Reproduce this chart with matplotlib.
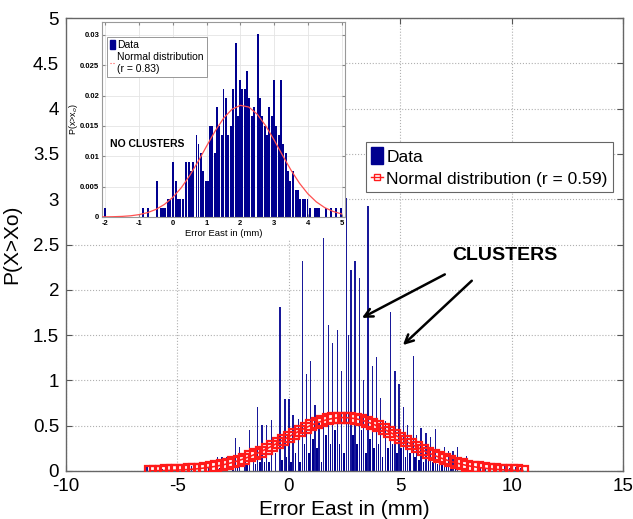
import matplotlib
matplotlib.use("Agg")
import matplotlib.pyplot as plt
from matplotlib.patches import Rectangle, Patch
from matplotlib.lines import Line2D

plt.rcParams['font.family'] = ['Liberation Sans', 'DejaVu Sans']
plt.rcParams['axes.unicode_minus'] = False

# ---------------- main histogram (spikes) ----------------
spike_x = [-6.37, -6.24, -5.7, -4.37, -4.2, -3.6, -3.19, -3.0, -2.79, -2.39, -2.2, -1.97,
           -1.78, -1.6, -1.41, -1.21, -1.0, -0.78, -0.6, -0.4, -0.17, 0.0, 0.18, 0.42,
           0.60, 0.79, 0.98, 1.17, 1.35, 1.57, 1.77, 1.96, 2.17, 2.36, 2.59, 2.68, 2.79,
           2.97, 3.17, 3.36, 3.56, 3.74, 3.92, 4.10, 4.33, 4.55, 4.76, 4.95, 5.14, 5.32,
           5.58, 5.73, 5.93, 6.15, 6.37, 6.57, 6.77, 6.98, 7.17, 7.37, 7.57, 7.77, 7.96,
           8.2, 8.6, 8.8, 9.0, 9.2, 9.45, 9.7, 9.9, 10.2, 10.4]
spike_y = [0.06, 0.06, 0.02, 0.06, 0.04, 0.04, 0.15, 0.15, 0.15, 0.36, 0.26, 0.22,
           0.45, 0.10, 0.71, 0.51, 0.51, 0.56, 0.20, 1.81, 0.80, 0.80, 0.62, 0.57,
           2.32, 1.07, 1.21, 0.73, 0.53, 2.57, 1.61, 1.41, 1.56, 1.10, 3.01, 1.50, 2.22,
           2.32, 2.13, 1.00, 2.93, 1.16, 1.26, 0.81, 0.55, 1.76, 1.10, 0.96, 0.71, 0.51,
           1.27, 0.40, 0.47, 0.42, 0.37, 0.46, 0.20, 0.26, 0.22, 0.22, 0.26, 0.08, 0.16,
           0.04, 0.04, 0.03, 0.04, 0.04, 0.04, 0.05, 0.03, 0.04, 0.03]

# low bars that form the dark base
base_x = [-3.1, -2.5, -2.3, -1.88, -1.5, -1.3, -1.1, -0.9, -0.3, -0.1, 0.1, 0.3, 0.5,
          0.7, 0.9, 1.08, 1.27, 1.46, 1.67, 1.87, 2.07, 2.27, 2.48, 2.88, 3.07, 3.27,
          3.46, 3.65, 3.83, 4.02, 4.2, 4.44, 4.65, 4.85, 5.04, 5.23, 5.45, 5.65, 5.83,
          6.05, 6.26, 6.47, 6.67, 6.88, 7.07, 7.27, 7.47]
base_y = [0.03, 0.05, 0.05, 0.08, 0.08, 0.10, 0.10, 0.10, 0.12, 0.15, 0.10, 0.20, 0.10,
          0.30, 0.20, 0.35, 0.25, 0.10, 0.40, 0.30, 0.45, 0.30, 0.20, 0.40, 0.30, 0.45,
          0.20, 0.35, 0.25, 0.30, 0.15, 0.25, 0.30, 0.20, 0.25, 0.15, 0.20, 0.15, 0.12,
          0.10, 0.12, 0.10, 0.08, 0.08, 0.05, 0.06, 0.05]

# fitted normal curve of main plot
curve_x = [-6.25, -6.0, -5.75, -5.5, -5.25, -5.0, -4.75, -4.5, -4.25, -4.0, -3.75, -3.5,
           -3.25, -3.0, -2.75, -2.5, -2.25, -2.0, -1.75, -1.5, -1.25, -1.0, -0.75, -0.5,
           -0.25, 0.0, 0.25, 0.5, 0.75, 1.0, 1.25, 1.5, 1.75, 2.0, 2.25, 2.5, 2.75, 3.0,
           3.25, 3.5, 3.75, 4.0, 4.25, 4.5, 4.75, 5.0, 5.25, 5.5, 5.75, 6.0, 6.25, 6.5,
           6.75, 7.0, 7.25, 7.5, 7.75, 8.0, 8.25, 8.5, 8.75, 9.0, 9.25, 9.5, 9.75, 10.0,
           10.25, 10.5]
curve_y = [0.0022, 0.0030, 0.0041, 0.0055, 0.0074, 0.0097, 0.0128, 0.0166, 0.0213, 0.0272,
           0.0344, 0.0430, 0.0534, 0.0656, 0.0798, 0.0964, 0.1152, 0.1364, 0.1600, 0.1861,
           0.2143, 0.2446, 0.2767, 0.3100, 0.3441, 0.3785, 0.4124, 0.4454, 0.4764, 0.5050,
           0.5304, 0.5519, 0.5690, 0.5812, 0.5883, 0.5899, 0.5861, 0.5770, 0.5628, 0.5438,
           0.5207, 0.4939, 0.4643, 0.4323, 0.3990, 0.3647, 0.3304, 0.2965, 0.2637, 0.2323,
           0.2028, 0.1754, 0.1503, 0.1276, 0.1073, 0.0894, 0.0739, 0.0605, 0.0490, 0.0394,
           0.0313, 0.0247, 0.0193, 0.0149, 0.0115, 0.0087, 0.0066, 0.0049]

# ---------------- inset histogram ----------------
inset_x = [-2.0, -0.88, -0.73, -0.46, -0.36, -0.29, -0.22, -0.15, -0.08, 0.01, 0.08, 0.15,
           0.22, 0.29, 0.40, 0.47, 0.54, 0.61, 0.70, 0.76, 0.83, 0.90, 0.97, 1.05, 1.10,
           1.17, 1.24, 1.31, 1.38, 1.45, 1.50, 1.57, 1.64, 1.71, 1.78, 1.86, 1.92, 1.99,
           2.06, 2.13, 2.20, 2.27, 2.34, 2.41, 2.51, 2.58, 2.65, 2.72, 2.79, 2.86, 2.93,
           3.00, 3.07, 3.14, 3.20, 3.27, 3.34, 3.41, 3.48, 3.57, 3.64, 3.71, 3.78, 3.85,
           3.92, 3.99, 4.06, 4.20, 4.27, 4.34, 4.55, 4.69, 4.83, 4.97]
inset_y = [0.0015, 0.0015, 0.0015, 0.0060, 0.0015, 0.0015, 0.0015, 0.0030, 0.0030, 0.0090,
           0.0060, 0.0030, 0.0030, 0.0030, 0.0090, 0.0090, 0.0075, 0.0090, 0.0135, 0.0120,
           0.0105, 0.0075, 0.0060, 0.0060, 0.0150, 0.0150, 0.0105, 0.0181, 0.0150, 0.0135,
           0.0211, 0.0196, 0.0135, 0.0150, 0.0211, 0.0287, 0.0166, 0.0226, 0.0211, 0.0211,
           0.0241, 0.0196, 0.0166, 0.0181, 0.0302, 0.0196, 0.0166, 0.0150, 0.0135, 0.0181,
           0.0166, 0.0226, 0.0150, 0.0135, 0.0226, 0.0120, 0.0105, 0.0075, 0.0060, 0.0075,
           0.0045, 0.0045, 0.0030, 0.0030, 0.0030, 0.0030, 0.0015, 0.0015, 0.0015, 0.0015,
           0.0015, 0.0015, 0.0015, 0.0015]

inset_curve_x = [-2.1, -2.0, -1.75, -1.5, -1.25, -1.0, -0.75, -0.5, -0.25, 0.0, 0.25, 0.5,
                 0.75, 1.0, 1.25, 1.5, 1.75, 2.0, 2.25, 2.5, 2.75, 3.0, 3.25, 3.5, 3.75,
                 4.0, 4.25, 4.5, 4.75, 5.0]
inset_curve_y = [0.00002, 0.00002, 0.00005, 0.0001, 0.0002, 0.00039, 0.00072, 0.00125,
                 0.00207, 0.00324, 0.00482, 0.00682, 0.00915, 0.01167, 0.01412, 0.01624,
                 0.01773, 0.01838, 0.0181, 0.01692, 0.01503, 0.01268, 0.01015, 0.00772,
                 0.00557, 0.00382, 0.00249, 0.00154, 0.00091, 0.0005]

main_xticks = [-10, -5, 0, 5, 10, 15]
main_yticks = [0, 0.5, 1, 1.5, 2, 2.5, 3, 3.5, 4, 4.5, 5]
inset_xticks = [-2, -1, 0, 1, 2, 3, 4, 5]
inset_yticks = [0, 0.005, 0.01, 0.015, 0.02, 0.025, 0.03]
inset_yticklabels = ['0', '0.005', '0.01', '0.015', '0.02', '0.025', '0.03']

NAVY = '#00008f'
RED = '#ff1a1a'

fig = plt.figure(figsize=(6.33, 5.19), dpi=100)
ax = fig.add_axes([0.1043, 0.0925, 0.880, 0.8728])

ax.bar(base_x, base_y, width=0.07, color=NAVY, linewidth=0, zorder=2)
ax.bar(spike_x, spike_y, width=0.06, color=NAVY, linewidth=0, zorder=2, alpha=0.9)
ax.plot(curve_x, curve_y, color=RED, lw=1.2, marker='s', ms=6.5, mfc='none',
        mec=RED, mew=1.6, zorder=3)

ax.set_xlim(-10, 15)
ax.set_ylim(0, 5)
ax.set_xticks(main_xticks)
ax.set_yticks(main_yticks)
ax.set_yticklabels(['%g' % v for v in main_yticks])
ax.tick_params(direction='in', top=True, right=True, length=4, labelsize=13.5,
               color='#555555', pad=5)
ax.grid(True, linestyle=':', color='#b0b0b0', linewidth=0.8)
ax.set_axisbelow(True)
for s in ax.spines.values():
    s.set_color('#666666')
    s.set_linewidth(1.0)
ax.set_xlabel('Error East in (mm)', fontsize=15, labelpad=4)
ax.set_ylabel('P(X>Xo)', fontsize=15, labelpad=8)

# white area behind the inset (covers main grid)
ax.add_patch(Rectangle((0.002, 0.51), 0.501, 0.489, transform=ax.transAxes,
                       facecolor='white', edgecolor='none', zorder=1.5))

# main legend
h_data = Patch(facecolor=NAVY, edgecolor=NAVY)
h_norm = Line2D([], [], color=RED, lw=1.0, marker='s', ms=4, mfc='none', mec=RED)
leg = ax.legend([h_data, h_norm], ['Data', 'Normal distribution (r = 0.59)'],
                loc='upper right', bbox_to_anchor=(0.982, 0.726), fontsize=12.5,
                frameon=True, fancybox=False, edgecolor='#666666', framealpha=1,
                handlelength=0.7, handleheight=1.1, handletextpad=0.2,
                borderpad=0.3, labelspacing=0.3, borderaxespad=0)
leg.get_frame().set_linewidth(0.8)
leg.set_zorder(5)

# annotations
ax.text(9.7, 2.38, 'CLUSTERS', fontsize=14, fontweight='bold', ha='center',
        va='center', zorder=6)
ap = dict(arrowstyle='->, head_length=0.6, head_width=0.3', color='black', lw=1.8,
          shrinkA=0, shrinkB=0)
ax.annotate('', xy=(3.28, 1.69), xytext=(7.0, 2.17), arrowprops=ap, zorder=6)
ax.annotate('', xy=(5.12, 1.39), xytext=(8.21, 2.10), arrowprops=ap, zorder=6)

# ---------------- inset ----------------
axi = fig.add_axes([0.1611, 0.5819, 0.3839, 0.3757])
axi.bar(inset_x, inset_y, width=0.058, color=NAVY, linewidth=0, zorder=2)
axi.plot(inset_curve_x, inset_curve_y, color='#ff5050', lw=0.9, zorder=3)
axi.set_xlim(-2.1, 5.1)
axi.set_ylim(0, 0.0321)
axi.set_xticks(inset_xticks)
axi.set_yticks(inset_yticks)
axi.set_yticklabels(inset_yticklabels)
axi.tick_params(direction='in', top=True, right=True, length=2.5, labelsize=5.5,
                color='#888888', pad=2)
for lab in axi.get_xticklabels() + axi.get_yticklabels():
    lab.set_fontweight('bold')
axi.grid(True, linestyle='-', color='#e4e4e4', linewidth=0.6)
axi.set_axisbelow(True)
for s in axi.spines.values():
    s.set_color('#999999')
    s.set_linewidth(0.8)
axi.set_xlabel('Error East in (mm)', fontsize=6.8, labelpad=1.5)
axi.set_ylabel('P(x>x$_o$)', fontsize=6.5, labelpad=0)
axi.text(-1.85, 0.012, 'NO CLUSTERS', fontsize=7.5, fontweight='bold', ha='left',
         va='center', zorder=4)
hi_data = Patch(facecolor=NAVY, edgecolor=NAVY)
hi_norm = Line2D([], [], color='#ff5050', lw=0.8, linestyle=':')
legi = axi.legend([hi_data, hi_norm], ['Data', 'Normal distribution\n(r = 0.83)'],
                  loc='upper left', bbox_to_anchor=(0.02, 0.925), fontsize=7.5,
                  frameon=True, fancybox=False, edgecolor='#888888', framealpha=1,
                  handlelength=0.5, handleheight=1.0, handletextpad=0.2,
                  borderpad=0.3, labelspacing=0.2, borderaxespad=0)
legi.get_frame().set_linewidth(0.6)

fig.savefig('out.png', dpi=100)
